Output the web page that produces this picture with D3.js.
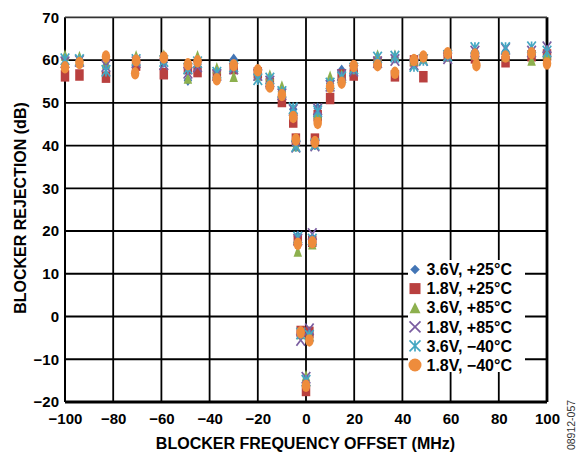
<!DOCTYPE html>
<html>
<head>
<meta charset="utf-8">
<script src="https://cdn.jsdelivr.net/npm/d3@7"></script>
<style>
html,body{margin:0;padding:0;background:#fff;}
svg{display:block;font-family:Arial,"Liberation Sans",Helvetica,sans-serif;}
</style>
</head>
<body>
<svg id="chart" width="582" height="453"></svg>
<script>
// ---- data ----
const freqs = [-100,-94,-83,-70.5,-70.9,-59,-49,-45,-37,-30,-20,-15,-10,-5.3,-4.2,-3.4,-2.2,0,1.4,2.6,3.7,4.85,10,14.8,19.8,29.7,36.9,44.8,48.7,58.8,70.1,70.7,82.8,93.6,100];
const s36_p25 = [60.3,60.0,58.5,60.2,null,59.5,55.3,59.0,57.0,60.2,56.5,55.5,52.5,48.5,40.0,18.8,-4.0,-15.5,-4.5,18.0,40.5,48.7,54.5,57.6,58.0,60.0,60.5,59.5,60.5,61.0,62.0,null,62.0,62.0,62.0];
const s18_p25 = [56.3,56.5,56.0,58.8,null,56.8,58.0,57.3,56.5,58.0,57.0,54.5,50.3,45.5,41.5,17.8,-3.5,-17.3,-3.7,17.6,41.5,47.0,51.0,56.5,56.5,59.5,56.3,59.8,56.1,61.0,60.5,null,59.6,61.0,61.2];
const s36_p85 = [61.2,60.8,59.3,61.0,null,61.2,55.8,61.0,58.2,56.2,56.5,56.5,53.9,47.5,40.0,15.3,-4.0,-13.8,-4.0,17.0,40.5,47.5,56.2,56.5,58.0,61.2,61.2,60.0,60.5,61.0,61.5,null,61.0,60.0,61.5];
const s18_p85 = [59.5,59.8,58.6,59.5,null,59.0,57.0,58.5,56.5,58.0,56.5,55.0,52.0,48.3,39.7,18.0,-5.5,-14.3,-3.0,19.3,40.0,48.5,54.0,56.5,57.5,59.5,60.0,59.0,60.0,60.4,62.0,null,62.6,62.0,63.0];
const s36_m40 = [60.2,60.0,57.5,60.0,null,59.8,58.0,59.5,57.0,58.5,55.5,55.7,52.5,48.7,39.9,18.5,-4.0,-15.0,-4.5,18.0,40.3,48.0,54.5,56.0,58.0,60.6,60.8,58.6,60.0,61.0,62.8,null,62.8,63.0,62.0];
const s18_m40 = [58.3,59.3,60.8,59.9,56.9,60.6,59.0,59.7,55.5,58.8,57.6,53.8,51.8,46.7,41.4,17.0,-3.7,-16.2,-5.6,17.4,40.8,45.3,53.7,54.7,58.6,58.8,57.0,60.0,60.8,61.6,61.3,58.8,60.8,61.6,59.2];
const seriesNames = ["3.6V, +25°C","1.8V, +25°C","3.6V, +85°C","1.8V, +85°C","3.6V, \u221240°C","1.8V, \u221240°C"];
const xTicks = [-100,-80,-60,-40,-20,0,20,40,60,80,100];
const yTicks = [-20,-10,0,10,20,30,40,50,60,70];

const seriesValues = [s36_p25,s18_p25,s36_p85,s18_p85,s36_m40,s18_m40];
const colors = ["#4375B5","#B9403F","#8DB04E","#7A5DA0","#44A7C2","#EE8C3C"];
const shapes = ["diamond","square","triangle","x","asterisk","circle"];

// ---- layout ----
const svg = d3.select("#chart");
const L = 65, R = 547, T = 17.3, B = 402;
const x = d3.scaleLinear().domain([-100,100]).range([L,R]);
const y = d3.scaleLinear().domain([-20,70]).range([B,T]);

function shapePath(shape,w,h){
  const a=w/2,b=h/2;
  switch(shape){
    case "diamond": return `M0,${-b}L${a},0L0,${b}L${-a},0Z`;
    case "square": return `M${-a},${-b}H${a}V${b}H${-a}Z`;
    case "triangle": return `M0,${-b}L${a},${b}L${-a},${b}Z`;
    case "x": return `M${-a},${-b}L${a},${b}M${a},${-b}L${-a},${b}`;
    case "asterisk": return `M${-a},${-b}L${a},${b}M${a},${-b}L${-a},${b}M0,${-b}V${b}`;
    case "circle": return `M${-a},0A${a},${b} 0 1,0 ${a},0A${a},${b} 0 1,0 ${-a},0Z`;
  }
}
function drawMarker(g,shape,color,w,h){
  const p = g.append("path").attr("d",shapePath(shape,w,h));
  if(shape==="x"||shape==="asterisk"){
    p.attr("fill","none").attr("stroke",color).attr("stroke-width",1.7);
  } else {
    p.attr("fill",color).attr("stroke","none");
  }
}

// grid
const grid = svg.append("g");
grid.selectAll("line.v").data(xTicks).enter().append("line")
  .attr("x1",d=>x(d)).attr("x2",d=>x(d)).attr("y1",T).attr("y2",B)
  .attr("stroke","#000").attr("stroke-width",d=>d===100?2.8:(d===-100?2:1.8));
grid.selectAll("line.h").data(yTicks).enter().append("line")
  .attr("x1",L).attr("x2",R).attr("y1",d=>y(d)).attr("y2",d=>y(d))
  .attr("stroke",d=>d===70?"#333":"#000").attr("stroke-width",d=>d===-20?2.8:1.8);

// axes (labels only, via d3 axes)
const fmt = d=> d<0 ? "\u2212"+Math.abs(d) : String(d);
const xAxis = svg.append("g").attr("transform",`translate(0,${B})`)
  .call(d3.axisBottom(x).tickValues(xTicks).tickFormat(fmt).tickSize(0).tickPadding(11));
const yAxis = svg.append("g").attr("transform",`translate(${L},0)`)
  .call(d3.axisLeft(y).tickValues(yTicks).tickFormat(fmt).tickSize(0).tickPadding(6));
[xAxis,yAxis].forEach(a=>{
  a.select(".domain").remove();
  a.selectAll("text").attr("font-family","Arial,'Liberation Sans',sans-serif")
    .attr("font-weight","bold").attr("font-size","15px").attr("fill","#000");
});

// points
seriesValues.forEach((vals,si)=>{
  const g = svg.append("g");
  vals.forEach((v,i)=>{
    if(v===null) return;
    const m = g.append("g").attr("transform",`translate(${x(freqs[i])},${y(v)})`);
    const w = 8.5, h = shapes[si]==="circle"?12.5:11.5;
    drawMarker(m,shapes[si],colors[si],w,h);
  });
});

// legend
const lg = svg.append("g");
lg.append("rect").attr("x",408).attr("y",260).attr("width",117).attr("height",112).attr("fill","#fff");
seriesNames.forEach((name,i)=>{
  const cy = 269.5 + i*19.1;
  const m = lg.append("g").attr("transform",`translate(415,${cy})`);
  const sz = shapes[i]==="circle"?13:(shapes[i]==="diamond"?9.5:11);
  drawMarker(m,shapes[i],colors[i],sz,sz);
  lg.append("text").attr("x",426.5).attr("y",cy).attr("dy","0.36em")
    .attr("font-weight","bold").attr("font-size","16px").attr("fill","#000").text(name);
});

// titles
svg.append("text").attr("x",305.5).attr("y",448.5).attr("text-anchor","middle")
  .attr("font-weight","bold").attr("font-size","16px").attr("fill","#000")
  .text("BLOCKER FREQUENCY OFFSET (MHz)");
svg.append("text").attr("transform","translate(25.5,208) rotate(-90)").attr("text-anchor","middle")
  .attr("font-weight","bold").attr("font-size","16px").attr("fill","#000")
  .text("BLOCKER REJECTION (dB)");
svg.append("text").attr("transform","translate(575,425) rotate(-90)").attr("text-anchor","middle")
  .attr("font-size","10.5px").attr("fill","#333").text("08912-057");
</script>
</body>
</html>
